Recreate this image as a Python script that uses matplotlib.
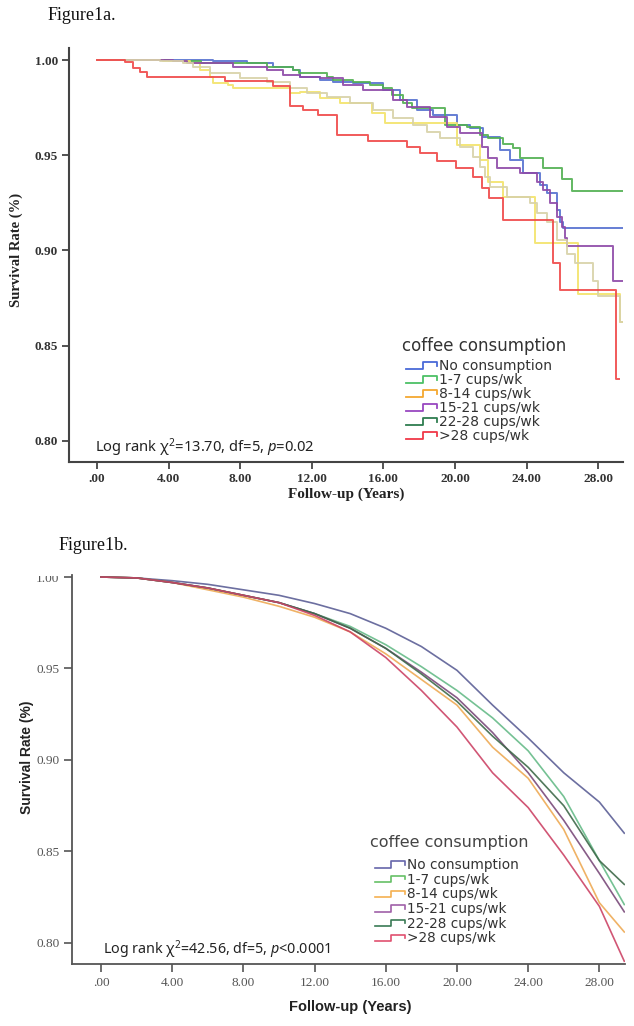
import matplotlib
matplotlib.use("Agg")
import matplotlib.pyplot as plt
from matplotlib.lines import Line2D
from matplotlib.legend_handler import HandlerBase
from matplotlib.patches import Rectangle

plt.rcParams['mathtext.fontset'] = 'custom'
plt.rcParams['mathtext.rm'] = 'Noto Sans'
plt.rcParams['mathtext.it'] = 'Noto Sans:italic'

# ---------------- data: Figure 1a (Kaplan-Meier steps) ----------------
groups = ["No consumption", "1-7 cups/wk", "8-14 cups/wk", "15-21 cups/wk",
          "22-28 cups/wk", ">28 cups/wk"]
legend_title = "coffee consumption"

a_none_t = [0, 6.48, 8.38, 9.83, 10.95, 11.34, 12.46, 13.18, 14.30, 15.98, 16.93, 17.88,
            18.77, 20.11, 20.84, 21.56, 22.51, 23.07, 23.80, 24.75, 25.14, 25.70, 25.87,
            26.03, 29.39]
a_none_s = [1.0, 0.9995, 0.9984, 0.9963, 0.9947, 0.9911, 0.9895, 0.9884, 0.9879, 0.9842,
            0.9789, 0.9737, 0.9711, 0.9658, 0.9642, 0.9595, 0.9526, 0.9474, 0.9405, 0.9342,
            0.9300, 0.9211, 0.9148, 0.9116, 0.9116]

a_c1_t = [0, 4.0, 5.8, 9.5, 10.95, 11.3, 12.85, 13.18, 14.30, 15.25, 15.98, 16.5, 17.09,
          17.60, 19.44, 20.67, 21.40, 21.84, 22.68, 23.24, 23.63, 24.92, 25.98, 26.54, 29.39]
a_c1_s = [1.0, 0.9995, 0.9984, 0.9963, 0.9947, 0.9930, 0.9911, 0.9895, 0.9884, 0.9868,
          0.9853, 0.9816, 0.9774, 0.9747, 0.9658, 0.9647, 0.9605, 0.9589, 0.9558, 0.9537,
          0.9484, 0.9432, 0.9374, 0.9311, 0.9311]

a_c8_t = [0, 3.69, 5.20, 5.75, 6.31, 6.48, 7.32, 7.60, 10.78, 11.34, 12.46, 13.58, 15.36,
          16.09, 20.11, 21.40, 21.84, 22.68, 24.47, 26.87, 29.22, 29.39]
a_c8_s = [1.0, 0.9995, 0.9984, 0.9947, 0.9911, 0.9879, 0.9868, 0.9853, 0.9826, 0.9832,
          0.9800, 0.9774, 0.9721, 0.9668, 0.9553, 0.9474, 0.9358, 0.9279, 0.9037, 0.8774,
          0.8622, 0.8622]

a_c15_t = [0, 4.25, 5.03, 7.60, 9.50, 10.39, 11.34, 12.46, 13.74, 14.86, 16.54, 17.32,
           18.60, 19.55, 20.28, 21.51, 21.84, 22.35, 23.63, 24.58, 24.92, 25.31, 25.70,
           25.98, 26.15, 26.26, 28.83, 29.39]
a_c15_s = [1.0, 0.9995, 0.9984, 0.9963, 0.9947, 0.9921, 0.9911, 0.9905, 0.9868, 0.9842,
           0.9789, 0.9753, 0.9700, 0.9647, 0.9616, 0.9542, 0.9484, 0.9432, 0.9405, 0.9358,
           0.9316, 0.9247, 0.9174, 0.9121, 0.9068, 0.9026, 0.8842, 0.8842]

a_c22_t = [0, 3.52, 4.80, 5.36, 6.31, 7.99, 9.50, 10.78, 11.73, 12.85, 14.13, 15.42, 16.54,
           17.65, 18.44, 19.16, 20.28, 21.01, 21.40, 21.68, 21.96, 22.91, 24.19, 24.58,
           25.14, 25.70, 26.26, 26.70, 27.71, 27.99, 29.22, 29.39]
a_c22_s = [1.0, 0.9995, 0.9984, 0.9963, 0.9932, 0.9905, 0.9884, 0.9853, 0.9826, 0.9805,
           0.9774, 0.9737, 0.9695, 0.9658, 0.9621, 0.9589, 0.9542, 0.9489, 0.9437, 0.9384,
           0.9332, 0.9279, 0.9247, 0.9195, 0.9147, 0.9053, 0.8984, 0.8932, 0.8842, 0.8763,
           0.8622, 0.8622]

a_c28_t = [0, 1.56, 2.01, 2.40, 2.79, 7.15, 9.83, 10.78, 11.51, 12.35, 13.41, 15.14, 17.32,
           18.04, 18.99, 20.06, 21.01, 21.51, 21.90, 22.68, 25.47, 25.87, 28.99, 29.16]
a_c28_s = [1.0, 0.9989, 0.9958, 0.9937, 0.9911, 0.9890, 0.9863, 0.9758, 0.9737, 0.9711,
           0.9605, 0.9574, 0.9542, 0.9511, 0.9469, 0.9432, 0.9385, 0.9327, 0.9274, 0.9158,
           0.8932, 0.8790, 0.8327, 0.8327]

# ---------------- data: Figure 1b ----------------
b_t = [0, 2, 4, 6, 8, 10, 12, 14, 16, 18, 20, 22, 24, 26, 28, 29.4]
b_none = [1.0, 0.9995, 0.998, 0.996, 0.993, 0.990, 0.9855, 0.980, 0.972, 0.962, 0.949,
          0.930, 0.912, 0.893, 0.877, 0.860]
b_c1 = [1.0, 0.9995, 0.997, 0.994, 0.990, 0.986, 0.980, 0.973, 0.963, 0.951, 0.938, 0.923,
        0.905, 0.880, 0.845, 0.821]
b_c8 = [1.0, 0.9995, 0.997, 0.993, 0.989, 0.984, 0.978, 0.970, 0.958, 0.944, 0.930, 0.907,
        0.890, 0.862, 0.822, 0.806]
b_c15 = [1.0, 0.9995, 0.997, 0.994, 0.990, 0.986, 0.980, 0.972, 0.961, 0.948, 0.934, 0.915,
         0.893, 0.867, 0.838, 0.817]
b_c22 = [1.0, 0.9995, 0.997, 0.994, 0.990, 0.986, 0.980, 0.972, 0.961, 0.947, 0.932, 0.913,
         0.896, 0.875, 0.845, 0.832]
b_c28 = [1.0, 0.9995, 0.997, 0.994, 0.990, 0.986, 0.979, 0.970, 0.956, 0.938, 0.918, 0.893,
         0.874, 0.848, 0.820, 0.790]

yticks = [0.80, 0.85, 0.90, 0.95, 1.00]
ytick_labels = ["0.80", "0.85", "0.90", "0.95", "1.00"]
xticks = [0, 4, 8, 12, 16, 20, 24, 28]
xtick_labels = [".00", "4.00", "8.00", "12.00", "16.00", "20.00", "24.00", "28.00"]

a_line_colors = ['#5570d0', '#52b052', '#f3e36a', '#8e4aa8', '#d8d2a8', '#f04848']
a_leg_colors = ['#4a6ad8', '#4cc066', '#f5a830', '#9848c0', '#2e7d4f', '#f03848']
b_line_colors = ['#5c5f96', '#66bb88', '#eeaa55', '#7a4a7a', '#3f6a4a', '#cc4466']
b_leg_colors = ['#6666aa', '#66c066', '#f5b050', '#a060a8', '#3a7a55', '#e05070']

W, H = 634, 1026
def fx(px):
    return px / W
def fy(py):
    return 1 - py / H


class StepHandler(HandlerBase):
    def create_artists(self, legend, orig_handle, xdescent, ydescent, width, height,
                       fontsize, trans):
        x0, y0 = -xdescent, -ydescent
        xs = [x0, x0 + 0.55 * width, x0 + 0.55 * width, x0 + width, x0 + width]
        ys = [y0 + 0.15 * height, y0 + 0.15 * height, y0 + 0.8 * height,
              y0 + 0.8 * height, y0 + 0.45 * height]
        ln = Line2D(xs, ys, color=orig_handle.get_color(),
                    lw=orig_handle.get_linewidth(), transform=trans)
        return [ln]


fig = plt.figure(figsize=(W / 100, H / 100), dpi=100)

# ---------------- panel a ----------------
ax1 = fig.add_axes([fx(69), fy(462), fx(623) - fx(69), fy(48) - fy(462)])
a_series = [(a_none_t, a_none_s), (a_c1_t, a_c1_s), (a_c8_t, a_c8_s),
            (a_c15_t, a_c15_s), (a_c22_t, a_c22_s), (a_c28_t, a_c28_s)]
for (t, s), c in zip(a_series, a_line_colors):
    ax1.step(t, s, where='post', color=c, lw=1.4, alpha=0.9)
ax1.set_xlim(-1.564, 29.39)
ax1.set_ylim(0.78895, 1.0063)
for sp in ['top', 'right']:
    ax1.spines[sp].set_visible(False)
for sp in ['left', 'bottom']:
    ax1.spines[sp].set_color('#444444')
    ax1.spines[sp].set_linewidth(1.5)
ax1.set_yticks(yticks)
ax1.set_yticklabels(ytick_labels)
ax1.set_xticks(xticks)
ax1.set_xticklabels(xtick_labels)
ax1.tick_params(length=5, width=1.3, color='#444444', pad=3)
for lab in ax1.get_xticklabels() + ax1.get_yticklabels():
    lab.set_fontfamily('Liberation Serif')
    lab.set_fontweight('bold')
    lab.set_fontsize(9.5)
    lab.set_color('#333333')
fig.text(fx(16), fy(250), "Survival Rate (%)", rotation=90, ha='center', va='center',
         family='Liberation Serif', weight='bold', fontsize=10.5, color='#222222')
fig.text(fx(346), fy(494), "Follow-up (Years)", ha='center', va='center',
         family='Liberation Serif', weight='bold', fontsize=11, color='#222222')
fig.text(fx(95), fy(448), "Log rank χ$^2$=13.70, df=5, $p$=0.02", ha='left', va='center',
         family='Noto Sans', fontsize=10.6, color='#222222')
fig.text(fx(48), fy(16), "Figure1a.", ha='left', va='center',
         family='Liberation Serif', fontsize=13, color='#111111')

fig.text(fx(484), fy(346), legend_title, ha='center', va='center',
         family='DejaVu Sans', fontsize=12, color='#333333')
a_handles = [Line2D([], [], color=c, lw=1.3) for c in a_leg_colors]
leg1 = ax1.legend(a_handles, groups,
                  handler_map={Line2D: StepHandler()},
                  loc='upper left', bbox_to_anchor=(fx(406), fy(359)),
                  bbox_transform=fig.transFigure, frameon=False, borderpad=0,
                  borderaxespad=0, handlelength=2.2, handletextpad=0.15,
                  labelspacing=0.0, prop={'family': 'DejaVu Sans', 'size': 10})
for tx in leg1.get_texts():
    tx.set_color('#333333')

# ---------------- panel b ----------------
ax2 = fig.add_axes([fx(72), fy(964), fx(625) - fx(72), fy(575) - fy(964)])
b_series = [b_none, b_c1, b_c8, b_c15, b_c22, b_c28]
for s, c in zip(b_series, b_line_colors):
    ax2.plot(b_t, s, color=c, lw=1.2, alpha=0.9)
ax2.set_xlim(-1.63, 29.44)
ax2.set_ylim(0.7885, 1.0011)
for sp in ['top', 'right']:
    ax2.spines[sp].set_visible(False)
for sp in ['left', 'bottom']:
    ax2.spines[sp].set_color('#555555')
    ax2.spines[sp].set_linewidth(1.3)
ax2.set_yticks(yticks)
ax2.set_yticklabels(ytick_labels)
ax2.set_xticks(xticks)
ax2.set_xticklabels(xtick_labels)
ax2.tick_params(length=6, width=1.2, color='#555555', pad=3)
for lab in ax2.get_xticklabels() + ax2.get_yticklabels():
    lab.set_fontfamily('Liberation Serif')
    lab.set_fontsize(9.5)
    lab.set_color('#555555')
fig.text(fx(27), fy(757), "Survival Rate (%)", rotation=90, ha='center', va='center',
         family='Liberation Sans', weight='bold', fontsize=10, color='#222222')
fig.text(fx(350), fy(1007), "Follow-up (Years)", ha='center', va='center',
         family='Liberation Sans', weight='bold', fontsize=10.5, color='#222222')
fig.text(fx(103), fy(950), "Log rank χ$^2$=42.56, df=5, $p$<0.0001", ha='left',
         va='center', family='Noto Sans', fontsize=10.3, color='#222222')
fig.text(fx(59), fy(546), "Figure1b.", ha='left', va='center',
         family='Liberation Serif', fontsize=13, color='#111111')

fig.text(fx(449), fy(843), legend_title, ha='center', va='center',
         family='DejaVu Sans', fontsize=11.5, color='#444444')
b_handles = [Line2D([], [], color=c, lw=1.2) for c in b_leg_colors]
leg2 = ax2.legend(b_handles, groups,
                  handler_map={Line2D: StepHandler()},
                  loc='upper left', bbox_to_anchor=(fx(375), fy(858)),
                  bbox_transform=fig.transFigure, frameon=False, borderpad=0,
                  borderaxespad=0, handlelength=2.2, handletextpad=0.15,
                  labelspacing=0.05, prop={'family': 'DejaVu Sans', 'size': 9.8})
for tx in leg2.get_texts():
    tx.set_color('#333333')

# top of panel b is cropped in the original figure
fig.add_artist(Rectangle((fx(30), fy(575.5)), fx(70) - fx(30), fy(560) - fy(575.5),
                         transform=fig.transFigure, facecolor='white', edgecolor='none',
                         zorder=10))

fig.savefig("out.png", dpi=100)
